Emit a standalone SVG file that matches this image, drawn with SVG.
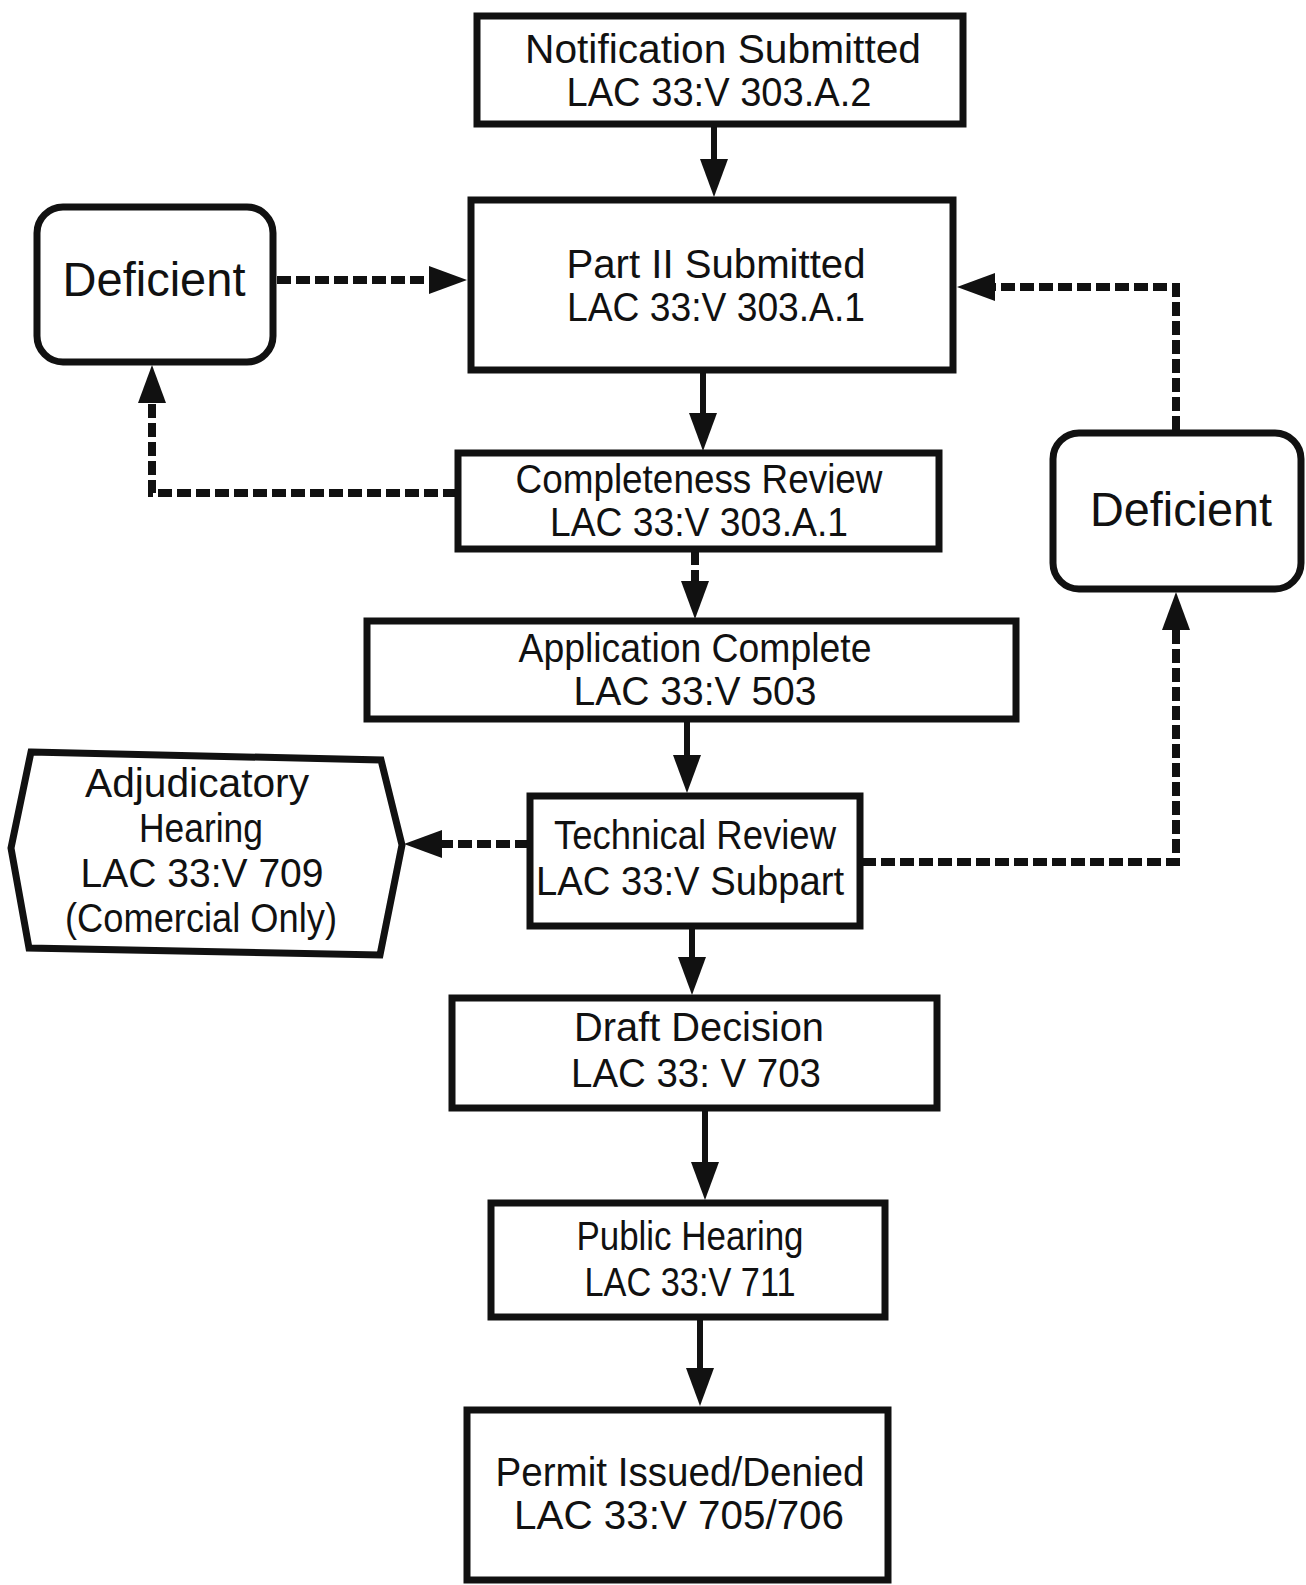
<svg xmlns="http://www.w3.org/2000/svg" width="1306" height="1585" viewBox="0 0 1306 1585">
<defs>
<style>
.box{fill:#fff;stroke:#111;stroke-width:7}
.t{font-family:"Liberation Sans",Arial,sans-serif;font-size:40px;fill:#111;text-anchor:middle}
.d{font-size:48px}
.solid{fill:none;stroke:#111;stroke-width:6}
.dash{fill:none;stroke:#111;stroke-width:8;stroke-dasharray:14 5}
</style>
<marker id="ah" markerUnits="userSpaceOnUse" markerWidth="40" markerHeight="28" refX="18" refY="14" orient="auto">
<path d="M0,0 L38,14 L0,28 Z" fill="#111"/>
</marker>
</defs>
<rect width="1306" height="1585" fill="#fff"/>
<g id="connectors">
<path class="solid" d="M714,126 V177" marker-end="url(#ah)"/>
<path class="solid" d="M703,372 V431" marker-end="url(#ah)"/>
<path class="dash" d="M695,551 V599" marker-end="url(#ah)"/>
<path class="solid" d="M687,721 V773" marker-end="url(#ah)"/>
<path class="solid" d="M692,928 V975" marker-end="url(#ah)"/>
<path class="solid" d="M705,1110 V1180" marker-end="url(#ah)"/>
<path class="solid" d="M700,1319 V1386" marker-end="url(#ah)"/>
<path class="dash" d="M277,280 H447" marker-end="url(#ah)"/>
<path class="dash" d="M457,493 H152 V385" marker-end="url(#ah)"/>
<path class="dash" d="M862,862 H1176 V612" marker-end="url(#ah)"/>
<path class="dash" d="M1176,430 V287 H977" marker-end="url(#ah)"/>
<path class="dash" d="M529,844 H424" marker-end="url(#ah)"/>
</g>
<g id="notification">
<rect class="box" x="477" y="16" width="486" height="108"/>
<text class="t" x="723" y="63" textLength="396" lengthAdjust="spacingAndGlyphs">Notification Submitted</text>
<text class="t" x="719" y="106" textLength="305" lengthAdjust="spacingAndGlyphs">LAC 33:V 303.A.2</text>
</g>
<g id="part2">
<rect class="box" x="471" y="200" width="482" height="170"/>
<text class="t" x="716" y="278" textLength="299" lengthAdjust="spacingAndGlyphs">Part II Submitted</text>
<text class="t" x="716" y="321" textLength="298" lengthAdjust="spacingAndGlyphs">LAC 33:V 303.A.1</text>
</g>
<g id="deficient-left">
<rect class="box" x="37" y="207" width="236" height="155" rx="26"/>
<text class="t d" x="154" y="296" textLength="183" lengthAdjust="spacingAndGlyphs">Deficient</text>
</g>
<g id="completeness">
<rect class="box" x="458" y="453" width="481" height="96"/>
<text class="t" x="699" y="493" textLength="367" lengthAdjust="spacingAndGlyphs">Completeness Review</text>
<text class="t" x="699" y="536" textLength="298" lengthAdjust="spacingAndGlyphs">LAC 33:V 303.A.1</text>
</g>
<g id="deficient-right">
<rect class="box" x="1053" y="433" width="248" height="156" rx="26"/>
<text class="t d" x="1181" y="526" textLength="182" lengthAdjust="spacingAndGlyphs">Deficient</text>
</g>
<g id="application">
<rect class="box" x="367" y="621" width="649" height="98"/>
<text class="t" x="695" y="662" textLength="353" lengthAdjust="spacingAndGlyphs">Application Complete</text>
<text class="t" x="695" y="705" textLength="243" lengthAdjust="spacingAndGlyphs">LAC 33:V 503</text>
</g>
<g id="adjudicatory">
<path class="box" d="M31,752 L381,760 L402,845 L380,955 L29,948 L11,848 Z"/>
<text class="t" x="197" y="797" textLength="224" lengthAdjust="spacingAndGlyphs">Adjudicatory</text>
<text class="t" x="201" y="842" textLength="124" lengthAdjust="spacingAndGlyphs">Hearing</text>
<text class="t" x="202" y="887" textLength="243" lengthAdjust="spacingAndGlyphs">LAC 33:V 709</text>
<text class="t" x="201" y="932" textLength="272" lengthAdjust="spacingAndGlyphs">(Comercial Only)</text>
</g>
<g id="technical">
<rect class="box" x="530" y="796" width="330" height="130"/>
<text class="t" x="695" y="849" textLength="282" lengthAdjust="spacingAndGlyphs">Technical Review</text>
<text class="t" x="690" y="895" textLength="308" lengthAdjust="spacingAndGlyphs">LAC 33:V Subpart</text>
</g>
<g id="draft">
<rect class="box" x="452" y="998" width="485" height="110"/>
<text class="t" x="699" y="1041" textLength="250" lengthAdjust="spacingAndGlyphs">Draft Decision</text>
<text class="t" x="696" y="1087" textLength="250" lengthAdjust="spacingAndGlyphs">LAC 33: V 703</text>
</g>
<g id="public">
<rect class="box" x="491" y="1203" width="394" height="114"/>
<text class="t" x="690" y="1250" textLength="227" lengthAdjust="spacingAndGlyphs">Public Hearing</text>
<text class="t" x="690" y="1296" textLength="211" lengthAdjust="spacingAndGlyphs">LAC 33:V 711</text>
</g>
<g id="permit">
<rect class="box" x="467" y="1410" width="421" height="170"/>
<text class="t" x="680" y="1486" textLength="369" lengthAdjust="spacingAndGlyphs">Permit Issued/Denied</text>
<text class="t" x="679" y="1529" textLength="330" lengthAdjust="spacingAndGlyphs">LAC 33:V 705/706</text>
</g>
</svg>
